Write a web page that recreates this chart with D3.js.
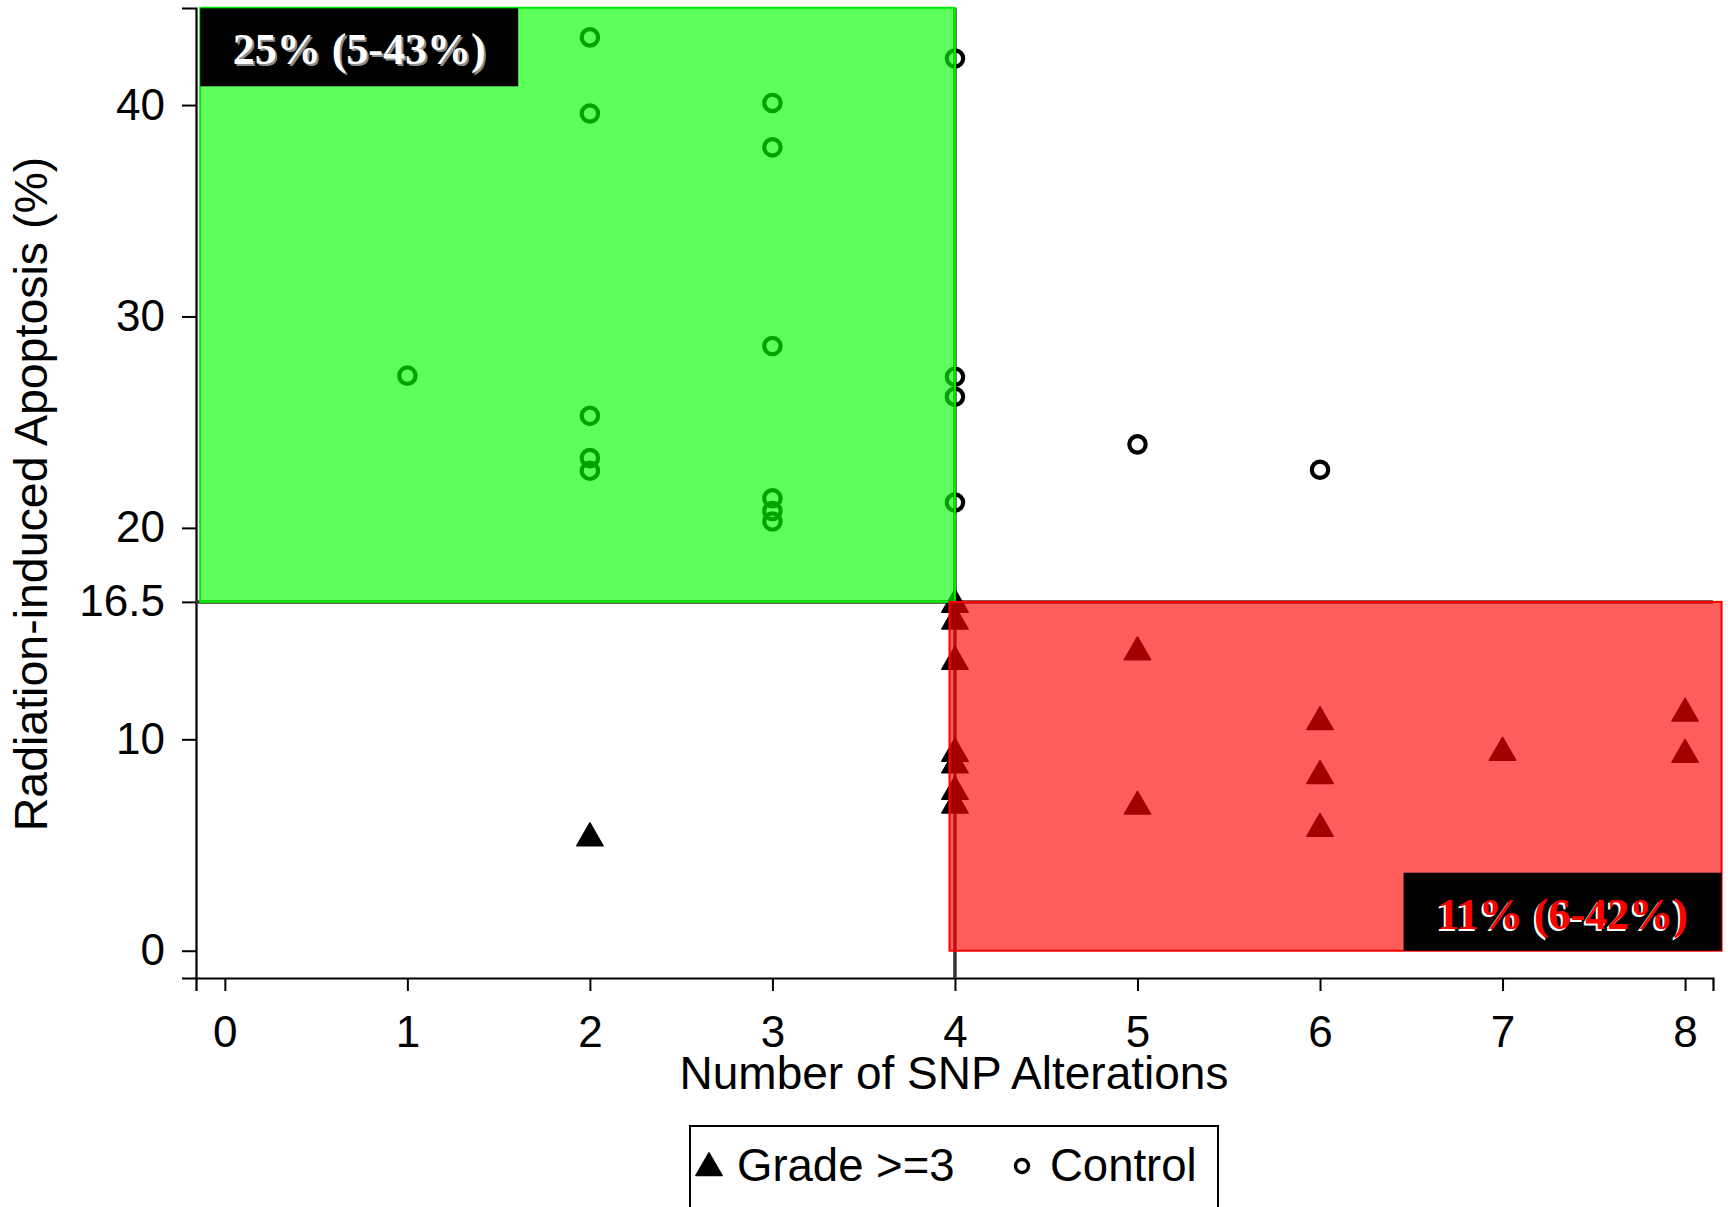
<!DOCTYPE html>
<html>
<head>
<meta charset="utf-8">
<script src="https://cdn.jsdelivr.net/npm/d3@7"></script>
<style>
  body { margin: 0; background: #fff; }
  text { font-family: "Liberation Sans", Arial, sans-serif; fill: #000; }
</style>
</head>
<body>
<div id="chart"></div>
<script>
// values
var xTicks = [0, 1, 2, 3, 4, 5, 6, 7, 8];
var yTicks = [0, 10, 16.5, 20, 30, 40];
var cutX = 4;
var cutY = 16.5;

var controlX = [1, 2, 2, 2, 2, 2, 3, 3, 3, 3, 3, 3, 4, 4, 4, 4, 5, 6];
var controlY = [27.2, 43.2, 39.6, 25.3, 23.3, 22.7, 40.1, 38.0, 28.6, 21.4, 20.8, 20.3, 42.2, 27.15, 26.2, 21.2, 23.95, 22.75];

var gradeX = [2, 4, 4, 4, 4, 4, 4, 4, 5, 5, 6, 6, 6, 7, 8, 8];
var gradeY = [5.5, 16.55, 15.75, 13.85, 9.5, 8.95, 7.7, 7.05, 14.3, 7.0, 11.0, 8.45, 5.95, 9.55, 11.4, 9.45];

var greenX = [-0.135, 4];
var greenY = [16.5, 44.6];
var redX = [3.97, 8.2];
var redY = [0, 16.5];

var boxLabels = ["25% (5-43%)", "11% (6-42%)"];
var legendLabels = ["Grade >=3", "Control"];

var width = 1728, height = 1207;

var svg = d3.select("#chart")
    .append("svg")
    .attr("width", width)
    .attr("height", height)
    .style("background", "#fff");

var x = d3.scaleLinear().domain([-0.158, 8.153]).range([196, 1713]);
var y = d3.scaleLinear().domain([-1.29, 44.59]).range([978, 8]);

// axes
var xAxis = svg.append("g")
    .attr("transform", "translate(0,978)")
    .call(d3.axisBottom(x).tickValues(xTicks).tickSizeOuter(0).tickSize(13).tickPadding(25));
var yAxis = svg.append("g")
    .attr("transform", "translate(196,0)")
    .call(d3.axisLeft(y).tickValues(yTicks).tickFormat(function(d){ return d; })
        .tickSizeOuter(0).tickSize(14).tickPadding(17));

[xAxis, yAxis].forEach(function(g) {
    g.selectAll("path.domain").attr("stroke", "#000").attr("stroke-width", 2.2);
    g.selectAll(".tick line").attr("stroke", "#000").attr("stroke-width", 2);
    g.selectAll(".tick text")
        .style("font-family", "'Liberation Sans', Arial, sans-serif")
        .style("font-size", "44px")
        .attr("fill", "#000");
});

// reference lines
svg.append("line")
    .attr("x1", x.range()[0]).attr("x2", x.range()[1])
    .attr("y1", y(cutY)).attr("y2", y(cutY))
    .attr("stroke", "#333").attr("stroke-width", 3.5);
svg.append("line")
    .attr("x1", x(cutX)).attr("x2", x(cutX))
    .attr("y1", y.range()[1]).attr("y2", y.range()[0])
    .attr("stroke", "#333").attr("stroke-width", 3.5);

// points
var controls = controlX.map(function(d, i){ return {x: d, y: controlY[i]}; });
var grades = gradeX.map(function(d, i){ return {x: d, y: gradeY[i]}; });

svg.selectAll("circle.control")
    .data(controls)
    .enter()
    .append("circle")
    .attr("class", "control")
    .attr("cx", function(d){ return x(d.x); })
    .attr("cy", function(d){ return y(d.y); })
    .attr("r", 8.2)
    .attr("fill", "none")
    .attr("stroke", "#000")
    .attr("stroke-width", 4.2);

var tri = d3.symbol().type(d3.symbolTriangle).size(300);
svg.selectAll("path.grade")
    .data(grades)
    .enter()
    .append("path")
    .attr("class", "grade")
    .attr("d", tri)
    .attr("transform", function(d){ return "translate(" + x(d.x) + "," + (y(d.y) + 3.75) + ")"; })
    .attr("fill", "#000")
    .attr("stroke", "#000")
    .attr("stroke-width", 1.5)
    .attr("stroke-linejoin", "round");

// shaded regions
svg.append("rect")
    .attr("x", x(greenX[0])).attr("y", y(greenY[1]))
    .attr("width", x(greenX[1]) - x(greenX[0]))
    .attr("height", y(greenY[0]) - y(greenY[1]))
    .attr("fill", "#00ff00").attr("fill-opacity", 0.64)
    .attr("stroke", "#00ee00").attr("stroke-width", 2);

svg.append("rect")
    .attr("x", x(redX[0])).attr("y", y(redY[1]))
    .attr("width", x(redX[1]) - x(redX[0]))
    .attr("height", y(redY[0]) - y(redY[1]))
    .attr("fill", "#ff0000").attr("fill-opacity", 0.64)
    .attr("stroke", "#ff0000").attr("stroke-width", 2);

// label boxes
var gx0 = x(greenX[0]), gy0 = y(greenY[1]);
svg.append("rect")
    .attr("x", gx0).attr("y", gy0 + 0.5)
    .attr("width", 318).attr("height", 78)
    .attr("fill", "#000");
svg.append("text")
    .attr("x", gx0 + 161).attr("y", gy0 + 58)
    .attr("text-anchor", "middle")
    .style("font-family", "'Liberation Serif', 'Times New Roman', serif")
    .style("font-weight", "bold").style("font-size", "44px")
    .style("fill", "#8c8c8c")
    .text(boxLabels[0]);
svg.append("text")
    .attr("x", gx0 + 159).attr("y", gy0 + 56)
    .attr("text-anchor", "middle")
    .style("font-family", "'Liberation Serif', 'Times New Roman', serif")
    .style("font-weight", "bold").style("font-size", "44px")
    .style("fill", "#fff")
    .text(boxLabels[0]);

var rx1 = x(redX[1]), ry0 = y(redY[0]);
svg.append("rect")
    .attr("x", rx1 - 318).attr("y", ry0 - 78)
    .attr("width", 318).attr("height", 78)
    .attr("fill", "#000");
svg.append("text")
    .attr("x", rx1 - 159 - 2).attr("y", ry0 - 20)
    .attr("text-anchor", "middle")
    .style("font-family", "'Liberation Serif', 'Times New Roman', serif")
    .style("font-weight", "bold").style("font-size", "44px")
    .style("fill", "#fff")
    .text(boxLabels[1]);
svg.append("text")
    .attr("x", rx1 - 159).attr("y", ry0 - 22)
    .attr("text-anchor", "middle")
    .style("font-family", "'Liberation Serif', 'Times New Roman', serif")
    .style("font-weight", "bold").style("font-size", "44px")
    .style("fill", "#ff0000")
    .text(boxLabels[1]);

// axis titles
svg.append("text")
    .attr("x", 954).attr("y", 1089)
    .attr("text-anchor", "middle")
    .style("font-size", "46px")
    .text("Number of SNP Alterations");
svg.append("text")
    .attr("transform", "translate(47,494) rotate(-90)")
    .attr("text-anchor", "middle")
    .style("font-size", "46.5px")
    .text("Radiation-induced Apoptosis (%)");

// legend
var legend = svg.append("g");
legend.append("rect")
    .attr("x", 690).attr("y", 1126)
    .attr("width", 528).attr("height", 100)
    .attr("fill", "#fff").attr("stroke", "#000").attr("stroke-width", 2);
legend.append("path")
    .attr("d", tri)
    .attr("transform", "translate(709,1168)")
    .attr("fill", "#000").attr("stroke", "#000")
    .attr("stroke-width", 1.5).attr("stroke-linejoin", "round");
legend.append("text")
    .attr("x", 737).attr("y", 1181)
    .style("font-size", "45.5px")
    .text(legendLabels[0]);
legend.append("circle")
    .attr("cx", 1022).attr("cy", 1166).attr("r", 6.5)
    .attr("fill", "none").attr("stroke", "#000").attr("stroke-width", 3.4);
legend.append("text")
    .attr("x", 1050).attr("y", 1181)
    .style("font-size", "45.5px")
    .text(legendLabels[1]);
</script>
</body>
</html>
